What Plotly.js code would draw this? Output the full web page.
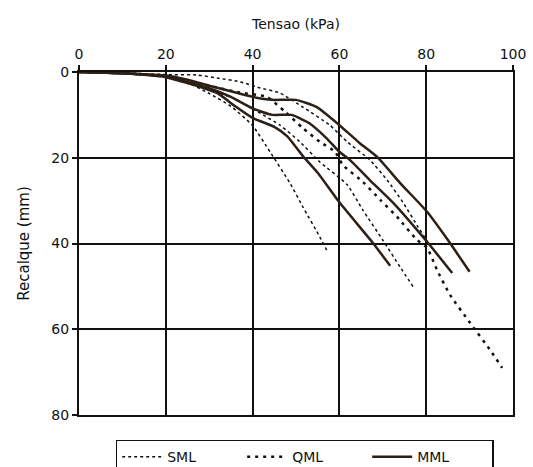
<!DOCTYPE html>
<html>
<head>
<meta charset="utf-8">
<script src="https://cdn.plot.ly/plotly-3.0.1.min.js"></script>
<style>html,body{margin:0;padding:0;background:#fff;}#chart{width:533px;height:467px;}</style>
</head>
<body>
<div id="chart"></div>
<script>
// Tensao (kPa) vs Recalque (mm)
var smlA_x = [0, 10, 20, 25, 30, 35, 40, 44, 48.6, 51.6, 55.5, 57.4];
var smlA_y = [0, 0.3, 1.2, 2.5, 5, 8, 12.5, 18.6, 25.9, 31.5, 38.5, 42.2];
var smlB_x = [0, 10, 20, 28.6, 35.5, 46.3, 50.9, 55.5, 61.8, 65.4, 70, 74, 77];
var smlB_y = [0, 0.3, 1.1, 3.7, 6.1, 12.4, 16.3, 21, 26.3, 32.2, 39.2, 45.5, 50.1];
var smlC_x = [0, 10, 20, 27.2, 31.8, 37.1, 41.7, 46.3, 51.6, 57.8, 61.8, 67, 71, 74.7, 78.1, 80.2];
var smlC_y = [0, 0.2, 0.6, 0.7, 1.4, 2.3, 3.7, 4.9, 8.2, 12.4, 16.3, 20.5, 25.2, 30.5, 36.1, 39.4];

var qmlA_x = [0, 10, 20, 30, 37, 43.3, 47.5, 51.6, 55.5, 59, 60.8, 65.4, 69.4, 73.3, 77.9, 80.2, 82.5, 85.5, 90.1, 94.7, 97.5];
var qmlA_y = [0, 0.3, 1, 3.2, 4.8, 5.8, 9.3, 13.1, 16.3, 18.6, 21.7, 25.6, 29.8, 33.8, 39.2, 41, 46.2, 52, 58.5, 64.8, 69];

var mmlA_x = [0, 10, 20, 25, 30, 35, 40, 44.5, 50, 54.8, 60, 64.7, 68.7, 74, 80.2, 85, 90];
var mmlA_y = [0, 0.3, 0.8, 1.8, 3.2, 4.5, 5.8, 6.5, 6.5, 8.2, 12.4, 16.6, 19.8, 25.9, 32.6, 39.2, 46.6];
var mmlB_x = [0, 10, 20, 25, 30, 35, 40, 44.5, 49, 53, 57, 60, 62.4, 67, 72.4, 80.2, 86];
var mmlB_y = [0, 0.3, 1, 2.3, 3.8, 5.8, 8.5, 10, 10, 11.9, 15.4, 18.6, 20.5, 25.2, 30.5, 39.6, 46.9];
var mmlC_x = [0, 10, 20, 24, 28, 32, 36, 40, 45, 48, 51.5, 55, 60, 67.5, 71.7];
var mmlC_y = [0, 0.3, 1.2, 2.3, 3.5, 5, 8, 10.7, 12.8, 15, 19.5, 23.5, 30.4, 39.6, 45.2];

var xTicks = [0, 20, 40, 60, 80, 100];
var yTicks = [0, 20, 40, 60, 80];

var FONT = 'DejaVu Sans, Liberation Sans, sans-serif';

function tr(x, y, name, dash, width, color, show) {
  return {x: x, y: y, type: 'scatter', mode: 'lines', name: name,
    showlegend: show, legendgroup: name,
    line: {color: color, width: width, dash: dash, shape: 'spline', smoothing: 0.5}};
}

var data = [
  tr(smlA_x, smlA_y, 'SML', 'dot', 1.5, '#111', true),
  tr(smlB_x, smlB_y, 'SML', 'dot', 1.5, '#111', false),
  tr(smlC_x, smlC_y, 'SML', 'dot', 1.5, '#111', false),
  tr(qmlA_x, qmlA_y, 'QML', '3px,5px', 2.5, '#111', true),
  tr(mmlA_x, mmlA_y, 'MML', 'solid', 2.5, '#2a2018', true),
  tr(mmlB_x, mmlB_y, 'MML', 'solid', 2.5, '#2a2018', false),
  tr(mmlC_x, mmlC_y, 'MML', 'solid', 2.5, '#2a2018', false)
];

var layout = {
  width: 533, height: 467,
  margin: {l: 79, r: 20, t: 72, b: 52, autoexpand: false},
  paper_bgcolor: '#fff', plot_bgcolor: '#fff',
  font: {family: FONT, color: '#111', size: 14},
  showlegend: true,
  legend: {orientation: 'h', x: 0.52, xanchor: 'center', y: -0.072, yanchor: 'top',
    bordercolor: '#111', borderwidth: 1.5, font: {size: 14, family: FONT},
    traceorder: 'normal', entrywidth: 70, entrywidthmode: 'pixels', itemwidth: 40, tracegroupgap: 0},
  xaxis: {
    side: 'top', range: [0, 100], tickvals: xTicks, ticktext: xTicks.map(String),
    showgrid: true, gridcolor: '#111', gridwidth: 2, zeroline: false,
    showline: true, mirror: true, linecolor: '#111', linewidth: 2,
    ticks: 'outside', ticklen: 5, tickwidth: 2, tickcolor: '#111',
    tickfont: {size: 14}, fixedrange: true,
    title: {text: 'Tensao (kPa)', font: {size: 14}, standoff: 14}
  },
  yaxis: {
    range: [80, 0], tickvals: yTicks, ticktext: yTicks.map(String),
    showgrid: true, gridcolor: '#111', gridwidth: 2, zeroline: false,
    showline: true, mirror: true, linecolor: '#111', linewidth: 2,
    ticks: 'outside', ticklen: 5, tickwidth: 2, tickcolor: '#111',
    tickfont: {size: 14}, fixedrange: true,
    title: {text: 'Recalque (mm)', font: {size: 15}, standoff: 18}
  }
};

Plotly.newPlot('chart', data, layout, {staticPlot: true, displayModeBar: false});
</script>
</body>
</html>
